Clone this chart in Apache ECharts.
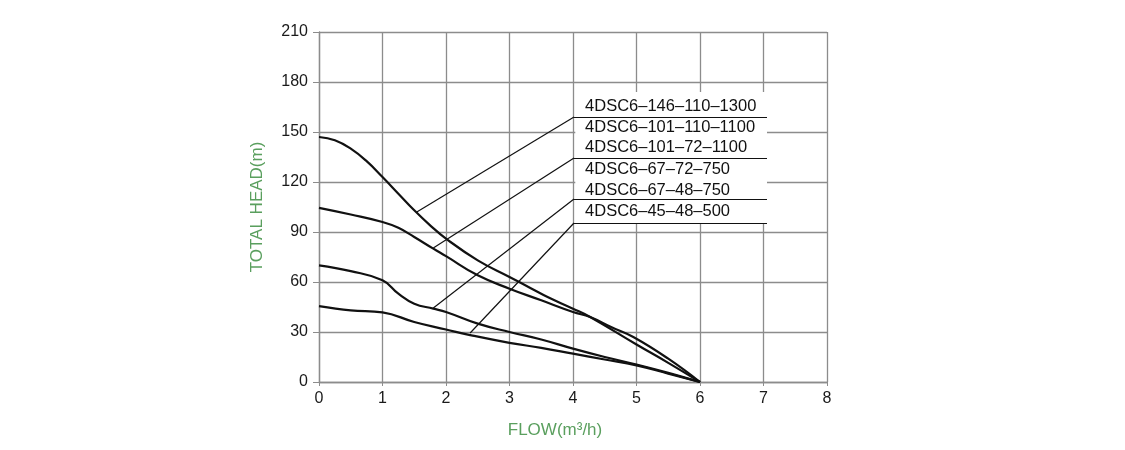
<!DOCTYPE html>
<html lang="en">
<head>
  <meta charset="UTF-8">
  <title>4DSC6 pump curves</title>
  <script src="https://cdn.jsdelivr.net/npm/echarts@6/dist/echarts.min.js"></script>
</head>
<body style="margin:0;background:#fff;">
<div id="chart" style="width:1125px;height:450px;"></div>
<script>
  // curve data: [flow m3/h, head m]
  const curve146 = [[0, 147], [0.25, 145], [0.5, 140], [0.75, 132.5], [1, 123], [1.25, 113], [1.5, 103],
    [1.75, 94], [2, 86], [2.5, 73], [3, 63], [3.35, 56], [3.6, 51], [4, 44], [4.27, 39], [5, 22.5], [5.5, 11.5], [6, 0]];
  const curve101 = [[0, 104.5], [0.5, 100.5], [1, 96], [1.25, 92.5], [1.5, 87], [1.8, 80], [2, 75.5],
    [2.5, 64], [3, 56], [3.5, 49], [4, 42], [4.27, 39], [4.6, 33], [4.95, 27], [5.5, 14], [6, 0]];
  const curve67 = [[0, 70], [0.5, 66.5], [1, 61], [1.25, 53], [1.5, 47], [1.8, 44], [2, 42], [2.5, 35],
    [3, 30], [3.5, 25.5], [4, 20], [4.5, 15], [5, 10.5], [5.5, 5.5], [6, 0]];
  const curve45 = [[0, 45.5], [0.5, 43], [1, 41.8], [1.5, 36], [2, 31.5], [2.4, 28], [3, 23.5],
    [3.5, 20.5], [4, 17], [4.5, 13.5], [5, 10], [5.5, 5], [6, 0]];

  // legend block (data coords)
  const modelNames = ['4DSC6–146–110–1300', '4DSC6–101–110–1100', '4DSC6–101–72–1100',
    '4DSC6–67–72–750', '4DSC6–67–48–750', '4DSC6–45–48–500'];
  const modelRowHead = [165.2, 152.8, 140.6, 127.6, 115.2, 102.6];
  const underlineHead = [159, 134.4, 109.8, 95.4];
  const leaderEnds = [[1.54, 102], [1.8, 80.4], [1.8, 44.4], [2.38, 29.4]];
  const blockLeft = 4.016, blockRight = 7.055, blockTop = 174, textX = 4.19;

  const green = '#5a9f5e';
  const gridGray = '#8c8c8c';

  const chart = echarts.init(document.getElementById('chart'));

  const curveSeries = [curve146, curve101, curve67, curve45].map(function (d) {
    return {
      type: 'line',
      data: d,
      smooth: 0.45,
      symbol: 'none',
      lineStyle: { color: '#111', width: 2.2 },
      z: 4,
      silent: true
    };
  });

  const leaderLines = [];
  underlineHead.forEach(function (h, i) {
    // underline
    leaderLines.push([{ coord: [blockLeft, h] }, { coord: [blockRight, h] }]);
    // leader to curve
    leaderLines.push([{ coord: [blockLeft, h] }, { coord: leaderEnds[i] }]);
  });

  const option = {
    animation: false,
    grid: { left: 319, right: 298, top: 32, bottom: 68 },
    xAxis: {
      type: 'value', min: 0, max: 8, interval: 1,
      name: 'FLOW(m³/h)', nameLocation: 'middle', nameGap: 40,
      nameTextStyle: { color: green, fontSize: 17, fontFamily: 'Liberation Sans', padding: [0, 36, 0, 0] },
      axisLine: { lineStyle: { color: gridGray, width: 1.3 } },
      axisTick: { show: true, length: 4, lineStyle: { color: gridGray } },
      axisLabel: { color: '#1a1a1a', fontSize: 16, fontFamily: 'Liberation Sans', margin: 9 },
      splitLine: { show: true, lineStyle: { color: gridGray, width: 1.3 } }
    },
    yAxis: {
      type: 'value', min: 0, max: 210, interval: 30,
      name: 'TOTAL HEAD(m)', nameLocation: 'middle', nameGap: 53,
      nameTextStyle: { color: green, fontSize: 17, fontFamily: 'Liberation Sans' },
      axisLine: { show: true, lineStyle: { color: gridGray, width: 1.3 } },
      axisTick: { show: true, length: 6, lineStyle: { color: gridGray } },
      axisLabel: { color: '#1a1a1a', fontSize: 16, fontFamily: 'Liberation Sans', margin: 11 },
      splitLine: { show: true, lineStyle: { color: gridGray, width: 1.3 } }
    },
    series: curveSeries.concat([
      {
        type: 'line',
        data: [],
        silent: true,
        z: 3,
        markArea: {
          silent: true,
          itemStyle: { color: '#ffffff', opacity: 1 },
          data: [[{ coord: [blockLeft + 0.02, blockTop] }, { coord: [blockRight, underlineHead[3]] }]]
        },
        markLine: {
          silent: true,
          symbol: 'none',
          label: { show: false },
          lineStyle: { color: '#111', width: 1.2, type: 'solid', opacity: 1 },
          data: leaderLines
        }
      },
      {
        type: 'scatter',
        symbolSize: 0,
        silent: true,
        z: 5,
        itemStyle: { opacity: 1 },
        data: modelNames.map(function (n, i) {
          return { name: n, value: [textX, modelRowHead[i]] };
        }),
        label: {
          show: true, position: 'right', distance: 0, formatter: '{b}',
          color: '#111', fontSize: 16.5, fontFamily: 'Liberation Sans'
        }
      }
    ])
  };
  chart.setOption(option);
</script>
</body>
</html>
